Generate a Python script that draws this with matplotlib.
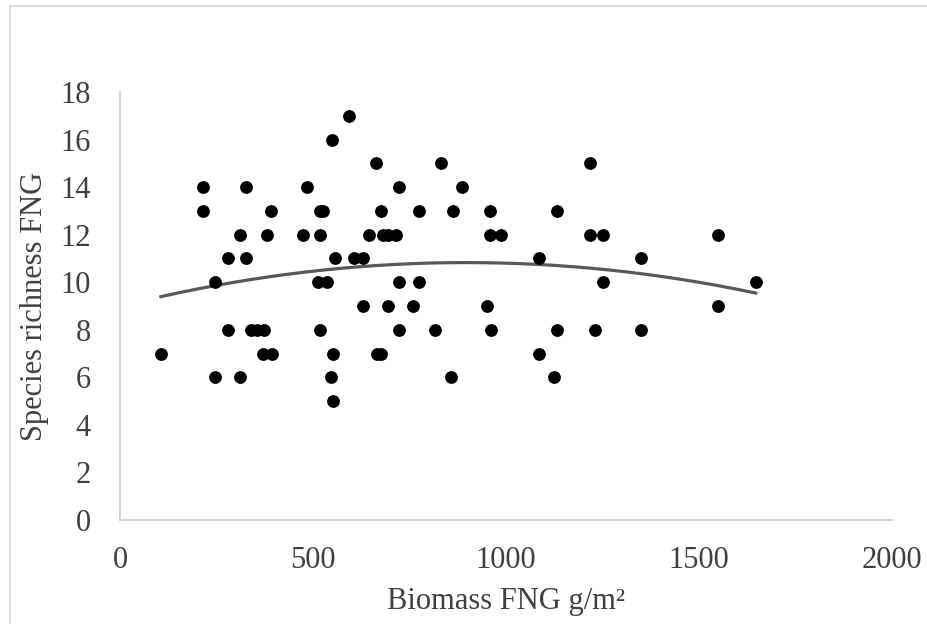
import numpy as np
import matplotlib
matplotlib.use("Agg")
import matplotlib.pyplot as plt
from matplotlib.patches import Rectangle

# Biomass (g/m2) grouped by species richness value
biomass = [
    593,
    548,
    663, 831, 1218,
    215, 327, 485, 722, 887,
    215, 391, 519, 527, 676, 775, 863, 959, 1131,
    311, 381, 475, 519, 644, 681, 695, 716, 959, 987, 1218, 1250, 1550,
    280, 327, 556, 606, 630, 1086, 1350,
    245, 514, 537, 722, 775, 1250, 1647,
    630, 695, 760, 950, 1550,
    280, 339, 356, 372, 519, 722, 815, 961, 1131, 1231, 1350,
    106, 370, 395, 551, 665, 676, 1086,
    245, 311, 546, 857, 1125,
    552,
]
richness = (
    [17] * 1 + [16] * 1 + [15] * 3 + [14] * 5 + [13] * 9 + [12] * 13 +
    [11] * 7 + [10] * 7 + [9] * 5 + [8] * 11 + [7] * 7 + [6] * 5 + [5] * 1
)
x_ticks = [0, 500, 1000, 1500, 2000]
y_ticks = [0, 2, 4, 6, 8, 10, 12, 14, 16, 18]

plt.rcParams['font.family'] = ['Liberation Serif', 'DejaVu Serif']

fig = plt.figure(figsize=(9.28, 6.24), dpi=100)
ax = fig.add_axes([120 / 928, 1 - 520 / 624, (892 - 120) / 928, (520 - 92) / 624])

x = np.array(biomass, dtype=float)
y = np.array(richness, dtype=float)
coef = np.polyfit(x, y, 2)
xs = np.linspace(x.min(), x.max(), 200)
ax.plot(xs, np.polyval(coef, xs), color='#595959', lw=2.3, zorder=2)
ax.scatter(x, y, s=85, color='black', zorder=3, linewidths=0)

ax.set_xlim(0, 2000)
ax.set_ylim(0, 18)
ax.set_xticks(x_ticks)
ax.set_yticks(y_ticks)
ax.tick_params(length=0, labelsize=22, colors='#404040')
ax.tick_params(axis='x', pad=19)
ax.tick_params(axis='y', pad=21)
for s in ['top', 'right']:
    ax.spines[s].set_visible(False)
for s in ['left', 'bottom']:
    ax.spines[s].set_color('#d0d0d0')
    ax.spines[s].set_linewidth(1.3)

ax.set_xlabel('Biomass FNG g/m²', fontsize=22, color='#404040', labelpad=8)
ax.set_ylabel('Species richness FNG', fontsize=22, color='#404040', labelpad=8)

fig.patches.append(Rectangle((10 / 928, -0.1), 1.2, 1.1 - 6 / 624,
                             transform=fig.transFigure, fill=False,
                             edgecolor='#d9d9d9', lw=1.3))

fig.savefig('out.png', dpi=100)
